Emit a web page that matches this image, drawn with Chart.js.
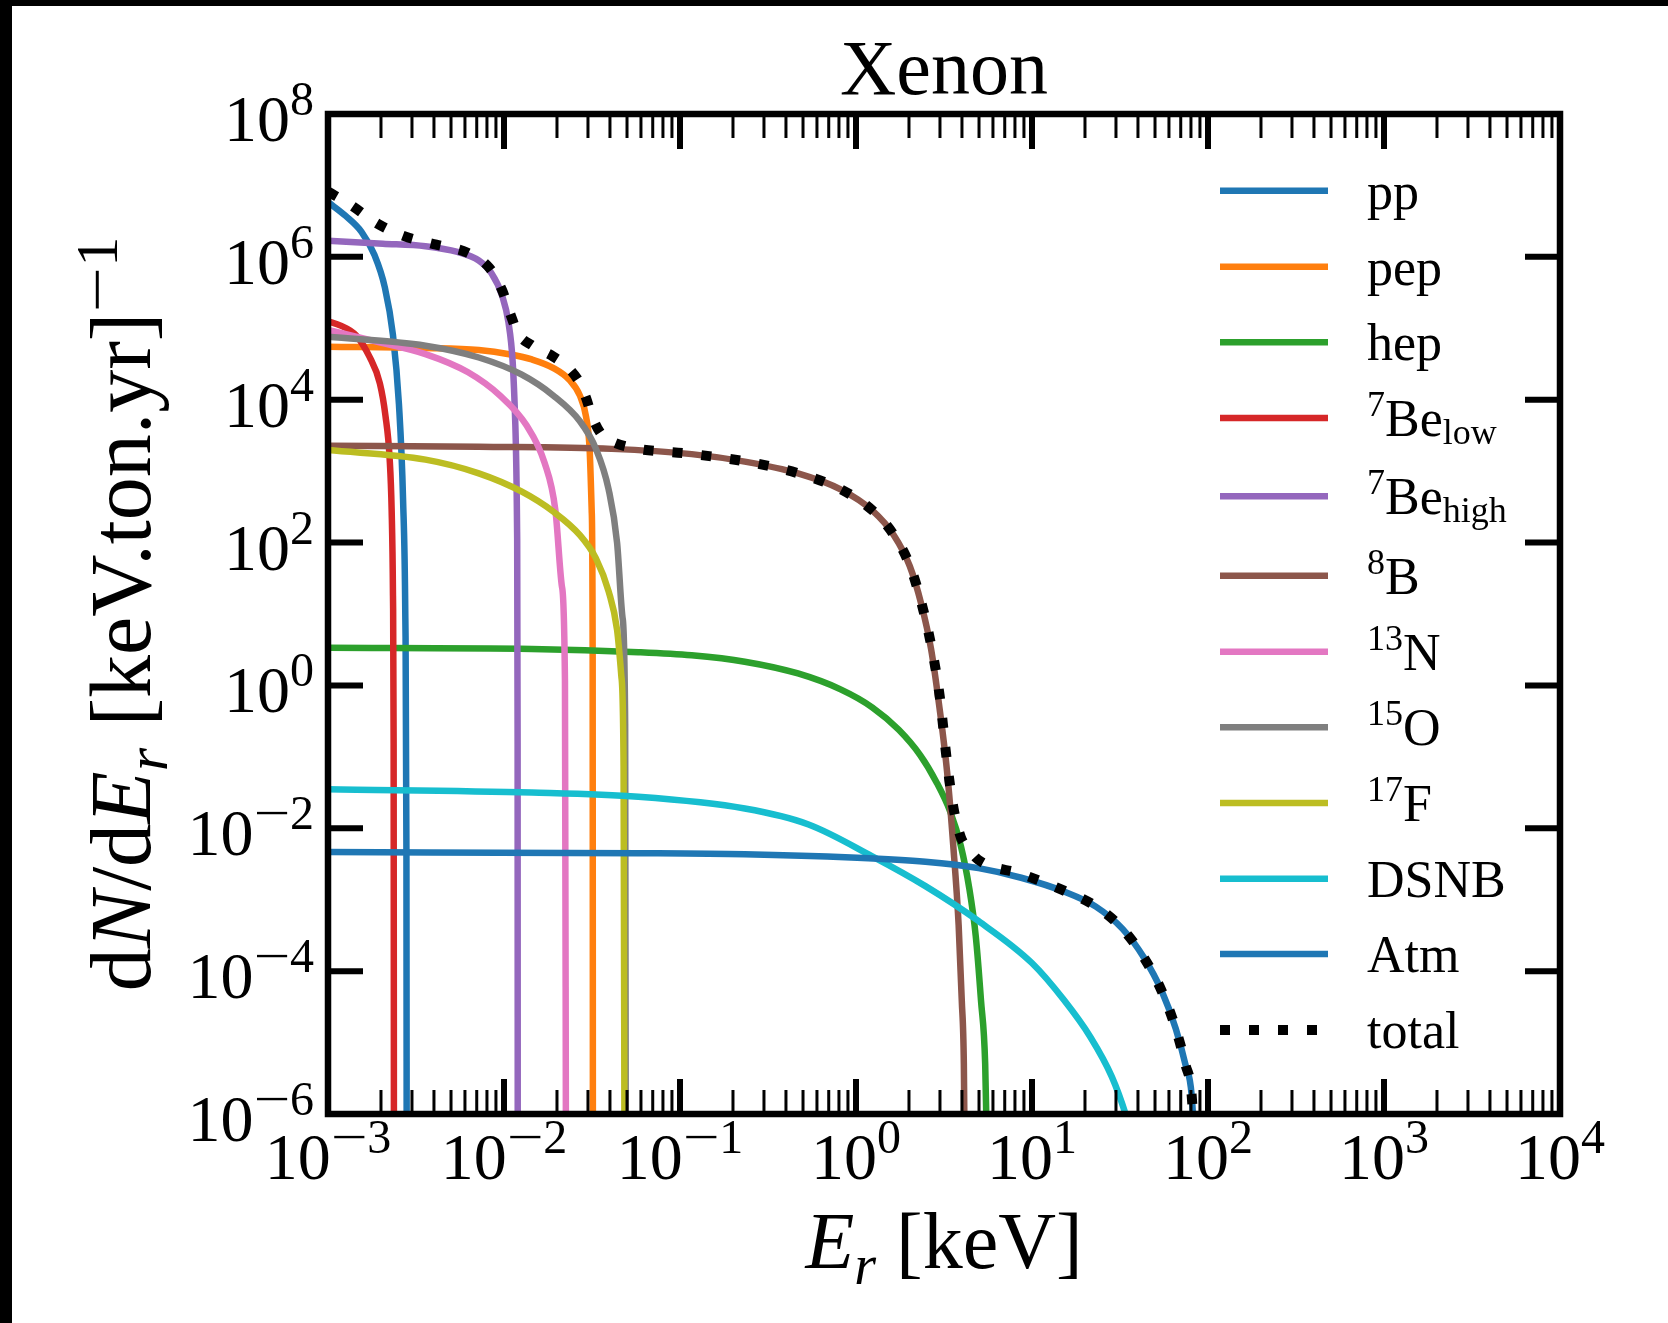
<!DOCTYPE html>
<html>
<head>
<meta charset="utf-8">
<title>Xenon</title>
<script src="https://cdn.jsdelivr.net/npm/chart.js@4.4.1/dist/chart.umd.min.js"></script>
<style>
  html, body { margin: 0; padding: 0; background: #fff; }
  canvas { display: block; }
</style>
</head>
<body>
<canvas id="rateChart" width="1668" height="1323"></canvas>
<script>
// Recoil energy E_r [keV] and rate dN/dE_r [1/(keV.ton.yr)] for each neutrino source
const ppE = [0.001, 0.00126, 0.00155, 0.00184, 0.0021, 0.00234, 0.00253, 0.00267, 0.00275, 0.00279, 0.0028];
const ppRate = [5.85e6, 3.74e6, 2.24e6, 1.05e6, 3.8e5, 8.0e4, 8.6e3, 400, 9, 5e-3, 1e-7];

const pepE = [0.001, 0.00358, 0.00719, 0.0109, 0.0144, 0.0191, 0.0235, 0.027, 0.0293, 0.0306, 0.0315, 0.0319, 0.032];
const pepRate = [5.5e4, 5.3e4, 4.97e4, 4.3e4, 3.66e4, 2.77e4, 1.9e4, 1.14e4, 5.7e3, 2.2e3, 280, 2.3, 1e-7];

const hepE = [0.001, 0.0144, 0.058, 0.1164, 0.2333, 0.468, 0.817, 1.241, 1.75, 2.32, 2.86, 3.43, 3.94, 4.40, 4.79, 5.13, 5.42, 5.6];
const hepRate = [3.36, 3.24, 2.92, 2.64, 2.15, 1.47, 0.88, 0.49, 0.239, 0.105, 0.0446, 0.0171, 5.7e-3, 1.45e-3, 3.1e-4, 3.9e-5, 5e-6, 1e-7];

const be7LowE = [0.001, 0.00118, 0.00144, 0.00172, 0.00197, 0.00212, 0.00224, 0.0023, 0.00234, 0.00236, 0.00237];
const be7LowRate = [1.25e5, 1.09e5, 8.0e4, 4.0e4, 1.7e4, 6.0e3, 1.5e3, 280, 18, 0.15, 1e-7];

const be7HighE = [0.001, 0.00205, 0.00358, 0.00544, 0.00719, 0.00849, 0.00976, 0.0106, 0.0112, 0.0116, 0.01187, 0.01195, 0.01197];
const be7HighRate = [1.68e6, 1.53e6, 1.41e6, 1.17e6, 8.9e5, 5.9e5, 2.86e5, 1.21e5, 3.4e4, 4.4e3, 141, 0.15, 1e-7];

const b8E = [0.001, 0.00719, 0.041, 0.1164, 0.2333, 0.468, 0.817, 1.241, 1.64, 2.02, 2.35, 2.67, 2.98, 3.29, 3.57, 3.83, 3.99, 4.10, 4.16];
const b8Rate = [2.26e3, 2.19e3, 2.05e3, 1.73e3, 1.36e3, 931, 557, 280, 127, 47, 13.7, 3.24, 0.49, 0.063, 5.7e-3, 4.4e-4, 3.9e-5, 5e-6, 1e-7];

const n13E = [0.001, 0.00179, 0.00358, 0.00625, 0.0095, 0.01345, 0.017, 0.0196, 0.0213, 0.0222, 0.0225];
const n13Rate = [9.5e4, 6.7e4, 4.35e4, 2.42e4, 1.14e4, 4.35e3, 1.31e3, 280, 25, 1.16, 1e-7];

const o15E = [0.001, 0.00358, 0.00719, 0.01255, 0.0191, 0.027, 0.0333, 0.0393, 0.0439, 0.0471, 0.0488, 0.0492];
const o15Rate = [7.6e4, 5.7e4, 3.9e4, 2.26e4, 1.14e4, 5.0e3, 2.05e3, 557, 100, 9.1, 0.29, 1e-7];

const f17E = [0.001, 0.00358, 0.00719, 0.01255, 0.0191, 0.027, 0.0333, 0.0393, 0.0439, 0.0464, 0.0478, 0.0484];
const f17Rate = [1.97e3, 1.45e3, 931, 519, 270, 127, 60, 20.7, 6.0, 1.37, 0.074, 1e-7];

const dsnbE = [0.001, 0.0144, 0.058, 0.2333, 0.5374, 1.237, 2.48, 4.98, 9.99, 15.2, 21.5, 28.4, 34.0, 37.1];
const dsnbRate = [0.0351, 0.0316, 0.0276, 0.0189, 0.0113, 4.05e-3, 1.55e-3, 5.0e-4, 1.3e-4, 3.94e-5, 1.19e-5, 3.34e-6, 1e-6, 4.6e-7];

const atmE = [0.001, 0.058, 0.2333, 0.939, 2.48, 4.97, 8.68, 15.2, 23.05, 32.7, 43.2, 54.7, 65.6, 74.3, 80.8, 86];
const atmRate = [4.64e-3, 4.48e-3, 4.33e-3, 3.9e-3, 3.4e-3, 2.77e-3, 2.03e-3, 1.3e-3, 8.0e-4, 3.9e-4, 1.55e-4, 5.2e-5, 1.56e-5, 5e-6, 1.8e-6, 1e-7];

const totalE = [0.001, 0.00135, 0.00192, 0.00271, 0.00412, 0.00625, 0.00826, 0.00976, 0.0109, 0.012, 0.0144, 0.0191, 0.0235, 0.027, 0.0293, 0.0315, 0.036, 0.041, 0.055, 0.1164, 0.2333, 0.468, 0.817, 1.241, 1.64, 2.02, 2.35, 2.67, 2.98, 3.29, 3.57, 3.94, 4.4, 4.97, 8.68, 15.2, 23.05, 32.7, 43.2, 54.7, 65.6, 74.3, 80.8, 86];
const totalRate = [8.2e6, 5.3e6, 2.9e6, 1.95e6, 1.48e6, 1.13e6, 7.0e5, 3.4e5, 1.55e5, 8.5e4, 5.8e4, 4.0e4, 2.7e4, 1.7e4, 1.05e4, 6.0e3, 3.2e3, 2.6e3, 2.1e3, 1.74e3, 1.37e3, 935, 560, 282, 128, 48, 14.5, 3.7, 0.75, 0.085, 0.02, 7.5e-3, 5.0e-3, 3.6e-3, 2.3e-3, 1.34e-3, 8.1e-4, 3.9e-4, 1.55e-4, 5.2e-5, 1.56e-5, 5e-6, 1.8e-6, 1e-7];

// legend text: superscript mass number, main symbol, subscript
const legendSup  = ['', '', '', '7', '7', '8', '13', '15', '17', '', '', ''];
const legendMain = ['pp', 'pep', 'hep', 'Be', 'Be', 'B', 'N', 'O', 'F', 'DSNB', 'Atm', 'total'];
const legendSub  = ['', '', '', 'low', 'high', '', '', '', '', '', '', ''];

// tick label exponents (labels read as 10^n)
const xTickExps = [-3, -2, -1, 0, 1, 2, 3, 4];
const yTickExps = [-6, -4, -2, 0, 2, 4, 6, 8];

const seriesE = [ppE, pepE, hepE, be7LowE, be7HighE, b8E, n13E, o15E, f17E, dsnbE, atmE, totalE];
const seriesRate = [ppRate, pepRate, hepRate, be7LowRate, be7HighRate, b8Rate, n13Rate, o15Rate, f17Rate, dsnbRate, atmRate, totalRate];
const seriesColors = [
    '#1f77b4', '#ff7f0e', '#2ca02c', '#d62728', '#9467bd', '#8c564b',
    '#e377c2', '#7f7f7f', '#bcbd22', '#17becf', '#1f77b4', '#000000'
];

const FONT = '"Liberation Serif", "DejaVu Serif", serif';
const LINE_W = 6.5;
const TOTAL_W = 10;
const TOTAL_DASH = [10, 19];

function fontOf(p) {
    return (p.it ? 'italic ' : '') + p.s + 'px ' + FONT;
}

// draws a run of text pieces (with super/subscripts) on one baseline;
// sx stretches a piece horizontally (used for the long TeX-style minus)
function richText(ctx, parts, x, y, align) {
    const widths = parts.map(p => { ctx.font = fontOf(p); return ctx.measureText(p.t).width * (p.sx || 1); });
    const total = widths.reduce((a, b) => a + b, 0);
    let cx = align === 'center' ? x - total / 2 : (align === 'right' ? x - total : x);
    ctx.textAlign = 'left';
    ctx.textBaseline = 'alphabetic';
    parts.forEach((p, i) => {
        ctx.font = fontOf(p);
        ctx.save();
        ctx.translate(cx, y + (p.dy || 0));
        if (p.sx) ctx.scale(p.sx, 1);
        ctx.fillText(p.t, 0, 0);
        ctx.restore();
        cx += widths[i];
    });
}

function powerParts(exp) {
    const parts = [{ t: '10', s: 66 }];
    if (exp < 0) parts.push({ t: '\u2212', s: 48, dy: -26, sx: 1.35 });
    parts.push({ t: String(Math.abs(exp)), s: 48, dy: -26 });
    return parts;
}

// frame, inward ticks, labels and legend in matplotlib style
const axesDecor = {
    id: 'axesDecor',
    beforeDraw(chart) {
        const ctx = chart.ctx;
        ctx.save();
        ctx.fillStyle = '#ffffff';
        ctx.fillRect(0, 0, chart.width, chart.height);
        ctx.fillStyle = '#000000';
        ctx.fillRect(0, 0, chart.width, 6);
        ctx.fillRect(0, 0, 12, chart.height);
        ctx.restore();
    },
    afterDraw(chart) {
        const ctx = chart.ctx;
        const a = chart.chartArea;
        const xs = chart.scales.x;
        const ys = chart.scales.y;
        ctx.save();
        ctx.strokeStyle = '#000';
        ctx.fillStyle = '#000';
        ctx.lineCap = 'butt';

        // minor x ticks (2..9 per decade), top and bottom
        ctx.lineWidth = 3;
        ctx.beginPath();
        for (let d = xTickExps[0]; d < xTickExps[xTickExps.length - 1]; d++) {
            for (let k = 2; k <= 9; k++) {
                const px = xs.getPixelForValue(k * Math.pow(10, d));
                ctx.moveTo(px, a.bottom); ctx.lineTo(px, a.bottom - 24);
                ctx.moveTo(px, a.top); ctx.lineTo(px, a.top + 24);
            }
        }
        ctx.stroke();

        // major ticks
        ctx.lineWidth = 6;
        ctx.beginPath();
        xTickExps.forEach(n => {
            const px = xs.getPixelForValue(Math.pow(10, n));
            ctx.moveTo(px, a.bottom); ctx.lineTo(px, a.bottom - 35);
            ctx.moveTo(px, a.top); ctx.lineTo(px, a.top + 35);
        });
        yTickExps.forEach(n => {
            const py = ys.getPixelForValue(Math.pow(10, n));
            ctx.moveTo(a.left, py); ctx.lineTo(a.left + 35, py);
            ctx.moveTo(a.right, py); ctx.lineTo(a.right - 35, py);
        });
        ctx.stroke();

        // axes frame
        ctx.lineWidth = 6.5;
        ctx.lineJoin = 'miter';
        ctx.strokeRect(a.left, a.top, a.right - a.left, a.bottom - a.top);

        // tick labels
        xTickExps.forEach(n => {
            richText(ctx, powerParts(n), xs.getPixelForValue(Math.pow(10, n)), a.bottom + 65, 'center');
        });
        yTickExps.forEach(n => {
            richText(ctx, powerParts(n), a.left - 14, ys.getPixelForValue(Math.pow(10, n)) + 27, 'right');
        });

        // title and axis titles
        const midX = (a.left + a.right) / 2;
        richText(ctx, [{ t: 'Xenon', s: 78 }], midX, 94, 'center');
        richText(ctx, [
            { t: 'E', s: 80, it: true },
            { t: 'r', s: 56, it: true, dy: 16 },
            { t: ' [keV]', s: 80 }
        ], midX, 1268, 'center');

        ctx.save();
        ctx.translate(150, (a.top + a.bottom) / 2);
        ctx.rotate(-Math.PI / 2);
        richText(ctx, [
            { t: 'd', s: 86 },
            { t: 'N', s: 86, it: true },
            { t: '/d', s: 86 },
            { t: 'E', s: 86, it: true },
            { t: 'r', s: 60, it: true, dy: 17 },
            { t: ' [keV.ton.yr]', s: 86 },
            { t: '\u2212', s: 60, dy: -33, sx: 1.35 },
            { t: '1', s: 60, dy: -33 }
        ], 0, 0, 'center');
        ctx.restore();

        // legend, no frame
        const rowY = [190.7, 266.7, 342.3, 418, 496.3, 575.7, 651.7, 727.3, 803, 878.7, 954, 1030];
        legendMain.forEach((name, i) => {
            const y = rowY[i];
            const isTotal = i === legendMain.length - 1;
            ctx.save();
            ctx.strokeStyle = seriesColors[i];
            ctx.lineWidth = isTotal ? TOTAL_W : LINE_W;
            ctx.setLineDash(isTotal ? TOTAL_DASH : []);
            ctx.beginPath();
            ctx.moveTo(1220, y);
            ctx.lineTo(1328, y);
            ctx.stroke();
            ctx.restore();

            const parts = [];
            if (legendSup[i]) parts.push({ t: legendSup[i], s: 36, dy: -20 });
            parts.push({ t: name, s: 52 });
            if (legendSub[i]) parts.push({ t: legendSub[i], s: 36, dy: 8 });
            richText(ctx, parts, 1367, y + 18, 'left');
        });

        ctx.restore();
    }
};

const datasets = seriesE.map((energies, i) => {
    const isTotal = i === seriesE.length - 1;
    return {
        label: legendSup[i] + legendMain[i] + legendSub[i],
        data: energies.map((e, j) => ({ x: e, y: seriesRate[i][j] })),
        borderColor: seriesColors[i],
        borderWidth: isTotal ? TOTAL_W : LINE_W,
        borderDash: isTotal ? TOTAL_DASH : [],
        borderCapStyle: 'butt',
        pointRadius: 0,
        fill: false,
        cubicInterpolationMode: 'monotone',
        clip: 0,
        order: seriesE.length - i  // later series drawn on top
    };
});

new Chart(document.getElementById('rateChart').getContext('2d'), {
    type: 'line',
    data: { datasets: datasets },
    options: {
        responsive: false,
        devicePixelRatio: 1,
        animation: false,
        events: [],
        layout: { padding: { left: 328, top: 114, right: 108, bottom: 209 } },
        plugins: {
            legend: { display: false },
            tooltip: { enabled: false }
        },
        scales: {
            x: { type: 'logarithmic', min: 1e-3, max: 1e4, display: false },
            y: { type: 'logarithmic', min: 1e-6, max: 1e8, display: false }
        }
    },
    plugins: [axesDecor]
});
</script>
</body>
</html>
